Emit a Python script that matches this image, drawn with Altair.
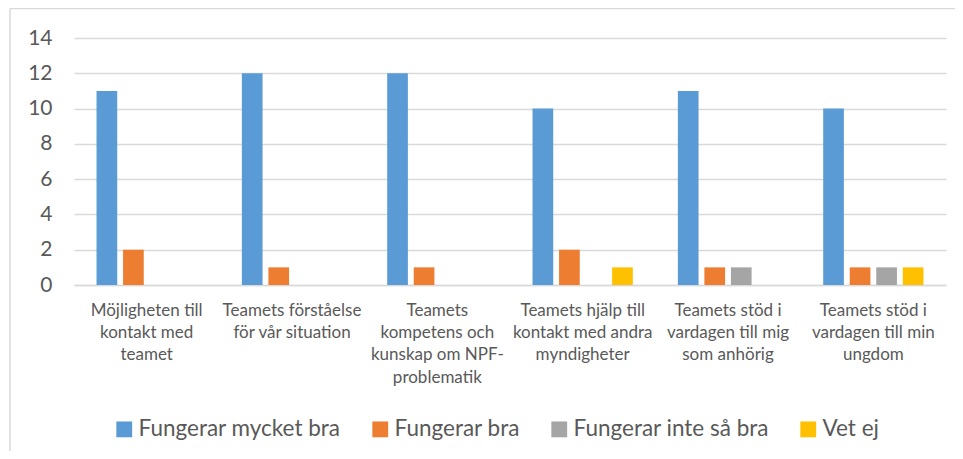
import altair as alt
import pandas as pd

categories = [
    "Möjligheten till\nkontakt med\nteamet",
    "Teamets förståelse\nför vår situation",
    "Teamets\nkompetens och\nkunskap om NPF-\nproblematik",
    "Teamets hjälp till\nkontakt med andra\nmyndigheter",
    "Teamets stöd i\nvardagen till mig\nsom anhörig",
    "Teamets stöd i\nvardagen till min\nungdom",
]
series = ["Fungerar mycket bra", "Fungerar bra", "Fungerar inte så bra", "Vet ej"]
mycket_bra = [11, 12, 12, 10, 11, 10]
bra = [2, 1, 1, 2, 1, 1]
inte_sa_bra = [0, 0, 0, 0, 1, 1]
vet_ej = [0, 0, 0, 1, 0, 1]
colors = ["#5B9BD5", "#ED7D31", "#A5A5A5", "#FFC000"]
y_ticks = [0, 2, 4, 6, 8, 10, 12, 14]

rows = []
for s, vals in zip(series, [mycket_bra, bra, inte_sa_bra, vet_ej]):
    for c, v in zip(categories, vals):
        rows.append({"kategori": c, "serie": s, "antal": v})
df = pd.DataFrame(rows)

FONT = "Lato"
GRAY = "#595959"
GRID = "#D9D9D9"

bars = alt.Chart(df).mark_bar().encode(
    x=alt.X(
        "kategori:N",
        sort=categories,
        title=None,
        scale=alt.Scale(paddingInner=0.31, paddingOuter=0.155),
        axis=alt.Axis(
            labelAngle=0,
            labelExpr="split(datum.label, '\\n')",
            labelFont=FONT,
            labelFontSize=17,
            labelColor=GRAY,
            labelLineHeight=22.4,
            labelPadding=17,
            labelBaseline="top",
            ticks=False,
            grid=False,
            domainColor=GRID,
            domainWidth=1.5,
            labelLimit=200,
        ),
    ),
    xOffset=alt.XOffset(
        "serie:N",
        sort=series,
        scale=alt.Scale(paddingInner=0.22, paddingOuter=0),
    ),
    y=alt.Y(
        "antal:Q",
        title=None,
        scale=alt.Scale(domain=[0, 14], nice=False),
        axis=alt.Axis(
            values=y_ticks,
            labelFont=FONT,
            labelFontSize=21,
            labelColor=GRAY,
            labelPadding=22,
            ticks=False,
            domain=False,
            gridColor=GRID,
            gridWidth=1.5,
        ),
    ),
    color=alt.Color(
        "serie:N",
        sort=series,
        scale=alt.Scale(domain=series, range=colors),
        legend=alt.Legend(
            title=None,
            orient="none",
            direction="horizontal",
            legendX=39,
            legendY=380,
            symbolType="square",
            symbolSize=250,
            symbolStrokeWidth=0,
            labelFont=FONT,
            labelFontSize=22.5,
            labelColor=GRAY,
            labelOffset=3,
            columnPadding=28,
            labelLimit=400,
        ),
    ),
)

border_df = pd.DataFrame({"a": [0]})
top_border = alt.Chart(border_df).mark_rule(color=GRID, strokeWidth=1.5).encode(
    x=alt.value(-64), x2=alt.value(900), y=alt.value(-29.5)
)
left_border = alt.Chart(border_df).mark_rule(color=GRID, strokeWidth=1.5).encode(
    x=alt.value(-64), y=alt.value(-29.5), y2=alt.value(440)
)

chart = alt.layer(bars, top_border, left_border).properties(
    width=872,
    height=247,
    autosize=alt.AutoSizeParams(type="none"),
    padding={"left": 66, "top": 30, "right": 9, "bottom": 166},
    background="white",
).configure_view(strokeWidth=0, stroke="transparent")

chart.save("out.html", embed_options={"renderer": "svg", "actions": False})
